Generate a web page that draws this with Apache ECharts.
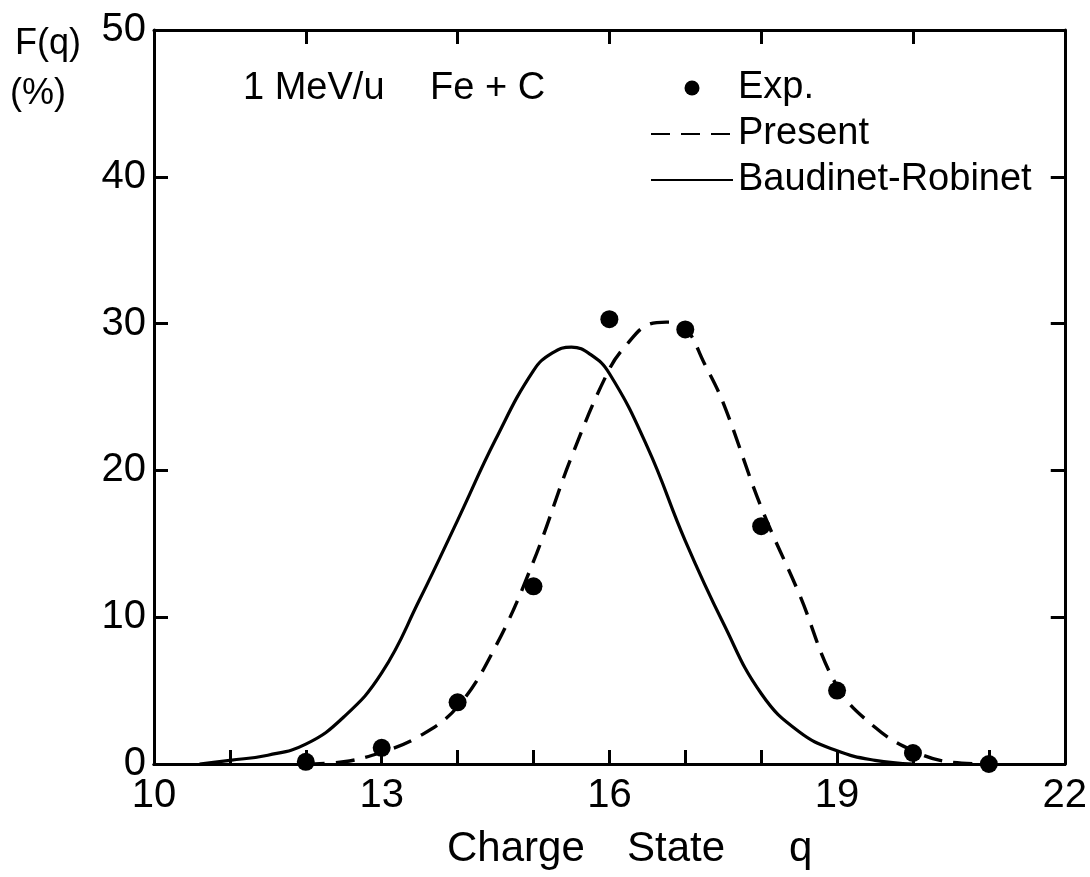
<!DOCTYPE html>
<html>
<head>
<meta charset="utf-8">
<script src="https://cdn.jsdelivr.net/npm/echarts@6/dist/echarts.min.js"></script>
<style>html,body{margin:0;padding:0;background:#fff}#c{width:1090px;height:877px}</style>
</head>
<body>
<div id="c"></div>
<script>
// ---- data ----
const expQ = [12, 13, 14, 15, 16, 17, 18, 19, 20, 21];
const expF = [0.15, 1.1, 4.2, 12.1, 30.3, 29.6, 16.2, 5.0, 0.75, 0.0];

const presentQ = [12, 12.5, 13, 13.5, 14, 14.5, 15, 15.5, 16, 16.25, 16.5, 16.75, 17, 17.25, 17.5, 18, 18.5, 19, 19.5, 20, 20.5, 21];
const presentF = [0, 0.15, 0.8, 1.9, 3.9, 8.0, 13.8, 20.9, 26.9, 28.7, 29.9, 30.1, 29.7, 27.3, 24.6, 17.5, 11.6, 5.3, 2.5, 0.9, 0.12, 0];

const baudQ = [10.6, 11, 11.5, 12, 12.5, 13, 13.5, 14, 14.5, 15, 15.25, 15.5, 15.75, 16, 16.5, 17, 17.5, 18, 18.5, 19, 19.5, 20];
const baudF = [0, 0.25, 0.6, 1.35, 3.2, 6.2, 11.2, 16.6, 22.1, 26.8, 28.0, 28.4, 27.9, 26.6, 21.6, 15.2, 9.6, 4.8, 2.2, 0.9, 0.25, 0];

const xTickLabels = [10, 13, 16, 19, 22];
const yTickLabels = [0, 10, 20, 30, 40, 50];
const seriesNames = ['Exp.', 'Present', 'Baudinet-Robinet'];

const zip = (a, b) => a.map((v, i) => [v, b[i]]);
const FONT = '"Liberation Sans", Arial, sans-serif';

const chart = echarts.init(document.getElementById('c'), null, {renderer: 'canvas'});
const axisLine = {show: true, lineStyle: {color: '#000', width: 3}};
const tick = (show) => ({show: show, inside: true, length: 14, lineStyle: {color: '#000', width: 3}});
const noSymbol = {color: 'rgba(0,0,0,0)', borderColor: 'rgba(0,0,0,0)', borderWidth: 0};

chart.setOption({
  backgroundColor: '#fff',
  animation: false,
  grid: {left: 154, right: 16, top: 30, bottom: 113},
  xAxis: [
    {type: 'value', position: 'bottom', min: 10, max: 22, interval: 3,
     axisLine: axisLine, axisTick: tick(false), splitLine: {show: false},
     axisLabel: {color: '#000', fontFamily: FONT, fontSize: 40, margin: 12,
       formatter: v => xTickLabels.includes(v) ? String(v) : ''}},
    {type: 'value', position: 'bottom', min: 10, max: 22, interval: 1,
     axisLine: axisLine, axisTick: tick(true), axisLabel: {show: false}, splitLine: {show: false}},
    {type: 'value', position: 'top', min: 10, max: 22, interval: 2,
     axisLine: axisLine, axisTick: tick(true), axisLabel: {show: false}, splitLine: {show: false}}
  ],
  yAxis: [
    {type: 'value', position: 'left', min: 0, max: 50, interval: 10,
     axisLine: axisLine, axisTick: tick(true), splitLine: {show: false},
     axisLabel: {color: '#000', fontFamily: FONT, fontSize: 40, margin: 8,
       formatter: v => yTickLabels.includes(v) ? String(v) : ''}},
    {type: 'value', position: 'right', min: 0, max: 50, interval: 10,
     axisLine: axisLine, axisTick: tick(true), axisLabel: {show: false}, splitLine: {show: false}}
  ],
  legend: {
    orient: 'vertical', left: 645, top: 64, itemWidth: 82, itemHeight: 15, itemGap: 8,
    textStyle: {color: '#000', fontFamily: FONT, fontSize: 38},
    data: [
      {name: seriesNames[0], itemStyle: {color: '#000', opacity: 1}},
      {name: seriesNames[1], itemStyle: noSymbol},
      {name: seriesNames[2], itemStyle: noSymbol}
    ]
  },
  series: [
    {name: seriesNames[2], type: 'line', xAxisIndex: 0, yAxisIndex: 0,
     data: zip(baudQ, baudF), smooth: 0.45, symbol: 'none', showSymbol: false,
     lineStyle: {color: '#000', width: 3.2, type: 'solid'}, itemStyle: {color: '#000'}, z: 2},
    {name: seriesNames[1], type: 'line', xAxisIndex: 0, yAxisIndex: 0,
     data: zip(presentQ, presentF), smooth: 0.4, symbol: 'none', showSymbol: false,
     lineStyle: {color: '#000', width: 3.4, type: [19, 11]}, itemStyle: {color: '#000'}, z: 2},
    {name: seriesNames[0], type: 'scatter', xAxisIndex: 0, yAxisIndex: 0,
     data: zip(expQ, expF), symbol: 'circle', symbolSize: 18,
     itemStyle: {color: '#000', opacity: 1}, z: 3}
  ],
  graphic: [
    {type: 'text', left: 15, top: 26, style: {text: 'F(q)', font: '36px ' + FONT, fill: '#000'}},
    {type: 'text', left: 10, top: 76, style: {text: '(%)', font: '36px ' + FONT, fill: '#000'}},
    {type: 'text', left: 243, top: 70, style: {text: '1 MeV/u', font: '38px ' + FONT, fill: '#000'}},
    {type: 'text', left: 430, top: 70, style: {text: 'Fe + C', font: '38px ' + FONT, fill: '#000'}},
    {type: 'text', left: 447, top: 828, style: {text: 'Charge', font: '42px ' + FONT, fill: '#000'}},
    {type: 'text', left: 627, top: 828, style: {text: 'State', font: '42px ' + FONT, fill: '#000'}},
    {type: 'text', left: 789, top: 828, style: {text: 'q', font: '42px ' + FONT, fill: '#000'}}
  ]
});
</script>
</body>
</html>
